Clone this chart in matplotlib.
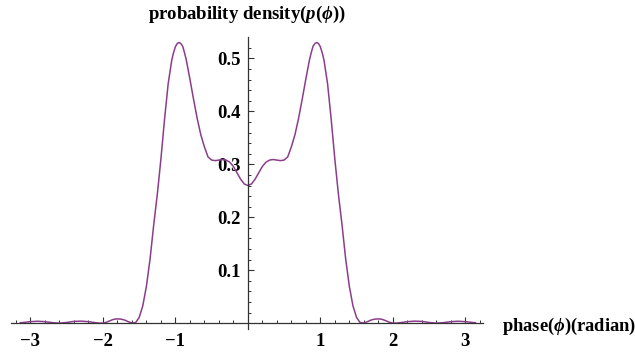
import numpy as np
import matplotlib
matplotlib.use("Agg")
import matplotlib.pyplot as plt
from matplotlib.ticker import FixedLocator

# phase values (radian) and probability density
phi = [-3.14, -3.1, -3.0, -2.9, -2.8, -2.7, -2.6, -2.5, -2.4, -2.3, -2.2, -2.1,
       -2.05, -2.0, -1.95, -1.9, -1.85, -1.8, -1.75, -1.7, -1.65, -1.6, -1.55,
       -1.5, -1.45, -1.4, -1.35, -1.3, -1.25, -1.2, -1.15, -1.1, -1.05, -1.025,
       -1.0, -0.975, -0.95, -0.925, -0.9, -0.875, -0.85, -0.8, -0.75, -0.7,
       -0.65, -0.6, -0.55, -0.5, -0.45, -0.4, -0.35, -0.3, -0.25, -0.2, -0.15,
       -0.1, -0.05,
       0.0,
       0.05, 0.1, 0.15, 0.2, 0.25, 0.3, 0.35, 0.4, 0.45, 0.5, 0.55, 0.6, 0.65,
       0.7, 0.75, 0.8, 0.85, 0.875, 0.9, 0.925, 0.95, 0.975, 1.0, 1.025, 1.05,
       1.1, 1.15, 1.2, 1.25, 1.3, 1.35, 1.4, 1.45, 1.5, 1.55, 1.6, 1.65, 1.7,
       1.75, 1.8, 1.85, 1.9, 1.95, 2.0, 2.05, 2.1, 2.2, 2.3, 2.4, 2.5, 2.6,
       2.7, 2.8, 2.9, 3.0, 3.1, 3.14]

density = [0.001, 0.0015, 0.003, 0.0038, 0.003, 0.0012, 0.0002, 0.0015, 0.0035,
           0.004, 0.003, 0.001, 0.0003, 0.0003, 0.002, 0.005, 0.0075, 0.0083,
           0.0078, 0.006, 0.003, 0.0005, 0.001, 0.011, 0.033, 0.070, 0.121,
           0.185, 0.243, 0.310, 0.385, 0.452, 0.497, 0.511, 0.522, 0.528, 0.530,
           0.528, 0.523, 0.511, 0.497, 0.461, 0.423, 0.387, 0.356, 0.333, 0.314,
           0.308, 0.307, 0.308, 0.309, 0.308, 0.304, 0.296, 0.284, 0.272, 0.263,
           0.260,
           0.263, 0.272, 0.284, 0.296, 0.304, 0.308, 0.309, 0.308, 0.307, 0.308,
           0.314, 0.333, 0.356, 0.387, 0.423, 0.461, 0.497, 0.511, 0.523, 0.528,
           0.530, 0.528, 0.522, 0.511, 0.497, 0.452, 0.385, 0.310, 0.243, 0.185,
           0.121, 0.070, 0.033, 0.011, 0.001, 0.0005, 0.003, 0.006, 0.0078,
           0.0083, 0.0075, 0.005, 0.002, 0.0003, 0.0003, 0.001, 0.003, 0.004,
           0.0035, 0.0015, 0.0002, 0.0012, 0.003, 0.0038, 0.003, 0.0015, 0.001]

x_major = [-3, -2, -1, 1, 2, 3]
y_major = [0.1, 0.2, 0.3, 0.4, 0.5]

plt.rcParams['font.family'] = ['Liberation Serif', 'DejaVu Serif']
plt.rcParams['font.weight'] = 'bold'
plt.rcParams['mathtext.fontset'] = 'custom'
plt.rcParams['mathtext.rm'] = 'Liberation Serif:bold'
plt.rcParams['mathtext.bf'] = 'Liberation Serif:bold'
plt.rcParams['mathtext.it'] = 'Liberation Serif:italic:bold'

fig = plt.figure(figsize=(6.35, 3.56), dpi=100)
ax = fig.add_axes([0.0172, 0.0756, 0.744, 0.820])

ax.plot(phi, density, color='#8B3D8B', lw=1.1)

ax.set_xlim(-3.27, 3.25)
ax.set_ylim(-0.011, 0.54)

ax.spines['left'].set_position(('data', 0))
ax.spines['bottom'].set_position(('data', 0))
ax.spines['top'].set_visible(False)
ax.spines['right'].set_visible(False)
for s in ['left', 'bottom']:
    ax.spines[s].set_color('#333333')
    ax.spines[s].set_linewidth(0.9)

ax.xaxis.set_major_locator(FixedLocator(x_major))
ax.xaxis.set_minor_locator(FixedLocator(np.arange(-3.2, 3.21, 0.2)))
ax.yaxis.set_major_locator(FixedLocator(y_major))
ax.yaxis.set_minor_locator(FixedLocator(np.arange(0.02, 0.531, 0.02)))
ax.set_xticklabels([str(v).replace('-', '\u2212') for v in x_major])
ax.set_yticklabels([f"{v:.1f}" for v in y_major])

ax.tick_params(axis='both', which='major', direction='in', length=4, width=0.8,
               color='#333333', labelsize=13.5)
ax.tick_params(axis='both', which='minor', direction='in', length=2.2, width=0.7,
               color='#333333')
ax.tick_params(axis='x', which='major', pad=7)
ax.tick_params(axis='y', which='major', pad=5)

fig.text(247 / 635, 1 - 14 / 356, r"probability density($p$($\phi$))",
         ha='center', va='center', fontsize=13.5, fontweight='bold')
fig.text(502 / 635, 1 - 326 / 356, r"phase($\phi$)(radian)",
         ha='left', va='center', fontsize=13.3, fontweight='bold')

fig.savefig("out.png", dpi=100)
